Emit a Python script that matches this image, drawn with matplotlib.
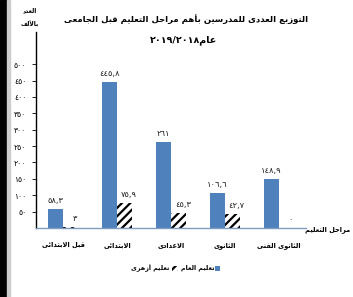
import unicodedata
import numpy as np
import matplotlib
matplotlib.use('Agg')
import matplotlib.pyplot as plt
from matplotlib.patches import Rectangle

# Data ===========================================
categories = ['قبل الابتدائى', 'الابتدائى', 'الاعدادى', 'الثانوى', 'الثانوى الفنى']
general    = [58.3, 445.8, 261, 106.6, 148.9]   # تعليم العام
azhar      = [3, 75.9, 45.3, 42.7, 0]           # تعليم أزهرى
yticks     = [50, 100, 150, 200, 250, 300, 350, 400, 450, 500]

title      = 'التوزيع العددى للمدرسين بأهم مراحل التعليم قبل الجامعى'
year_txt   = 'عام'
years      = '2019/2018'
ylab       = ['العدد', 'بالألف']
xlab       = 'مراحل التعليم'
leg_general = 'تعليم العام'
leg_azhar   = 'تعليم أزهرى'

# Arabic shaping (no reshaper lib available) =====
FORMS = {}
LIGS  = {}
for cp in range(0xFE70, 0xFEFD):
    d = unicodedata.decomposition(chr(cp)).split()
    if len(d) == 2 and d[0] in ('<isolated>', '<final>', '<initial>', '<medial>'):
        FORMS.setdefault(chr(int(d[1], 16)), {})[d[0][1:-1]] = chr(cp)
    elif len(d) == 3 and d[1] == '0644':
        LIGS[(chr(int(d[2], 16)), d[0][1:-1])] = chr(cp)


def joins_left(c):
    return c in FORMS and 'initial' in FORMS[c]


def ar(s):
    res, i, n = [], 0, len(s)
    while i < n:
        c = s[i]
        if c not in FORMS:
            res.append(c); i += 1; continue
        after = i > 0 and joins_left(s[i-1])
        if c == 'ل' and i + 1 < n and (s[i+1], 'isolated') in LIGS:
            res.append(LIGS[(s[i+1], 'final' if after else 'isolated')])
            i += 2; continue
        nxt    = s[i+1] if i + 1 < n else ''
        before = joins_left(c) and nxt in FORMS and 'final' in FORMS[nxt]
        form   = ('medial' if after and before else 'final' if after
                  else 'initial' if before else 'isolated')
        res.append(FORMS[c].get(form, c))
        i += 1
    return ''.join(reversed(res))


DIG = str.maketrans('0123456789.', '٠١٢٣٤٥٦٧٨٩,')


def num(v):
    return f'{v:g}'.translate(DIG)


plt.rcParams['font.family'] = ['DejaVu Sans']
plt.rcParams['hatch.linewidth'] = 1.6

W, H = 353, 297
fig = plt.figure(figsize=(W/100, H/100), dpi=100)
ax  = fig.add_axes([36/W, 69/H, 270/W, 196/H])

blue = '#4F81BD'
x    = np.arange(len(categories))
w    = 0.28
ax.bar(x - w/2, general, w, color=blue, linewidth=0)
ax.bar(x + w/2, azhar, w, facecolor='white', edgecolor='black',
       hatch='////', linewidth=0)

for xi, v in zip(x, general):
    ax.annotate(num(v), (xi - w/2, v), xytext=(0, 3), textcoords='offset points',
                ha='center', va='bottom', fontsize=6, color='#222222')
for xi, v in zip(x, azhar):
    ax.annotate(num(v), (xi + w/2, v), xytext=(3, 3), textcoords='offset points',
                ha='center', va='bottom', fontsize=6, color='#222222')

ax.set_xlim(-0.5, 4.5)
ax.set_ylim(0, 598)
ax.set_yticks(yticks)
ax.set_yticklabels([num(t) for t in yticks], fontsize=5.5)
ax.tick_params(axis='y', length=3, pad=4, width=0.6)
ax.set_xticks(x)
ax.set_xticklabels([ar(c) for c in categories], fontsize=4.8, fontweight='bold')
ax.tick_params(axis='x', length=0, pad=10)

for s in ['top', 'right']:
    ax.spines[s].set_visible(False)
ax.spines['left'].set_linewidth(1.0)
ax.spines['bottom'].set_color('#7F9CC0')
ax.spines['bottom'].set_linewidth(1.0)

# Titles & labels ==============================
fig.text(186/W, 1 - 19/H, ar(title), ha='center', va='center',
         fontsize=6.1, fontweight='bold')
fig.text(184/W, 1 - 40/H, years.translate(DIG) + ar(year_txt), ha='center',
         va='center', fontsize=6.8, fontweight='bold')
fig.text(30/W, 1 - 11/H, ar(ylab[0]), ha='center', va='center', fontsize=4.3,
         fontweight='bold')
fig.text(30/W, 1 - 24/H, ar(ylab[1]), ha='center', va='center', fontsize=4.3,
         fontweight='bold')
fig.text(305/W, 1 - 230/H, ar(xlab), ha='left', va='center', fontsize=4.8,
         fontweight='bold')

# Legend, right-to-left: text then swatch ======
ly = 1 - 268/H
renderer = fig.canvas.get_renderer()
fig.patches.append(Rectangle((215/W, ly - 2.5/H), 5/W, 5/H, transform=fig.transFigure,
                             facecolor=blue, linewidth=0))
t1 = fig.text(214/W, ly, ar(leg_general), ha='right', va='center', fontsize=4.6,
              fontweight='bold')
x1 = t1.get_window_extent(renderer).x0
fig.patches.append(Rectangle(((x1 - 9)/W, ly - 2.5/H), 6/W, 5/H, transform=fig.transFigure,
                             facecolor='white', edgecolor='black', hatch='////',
                             linewidth=0))
fig.text((x1 - 11)/W, ly, ar(leg_azhar), ha='right', va='center', fontsize=4.6,
         fontweight='bold')

# Left black border ============================
fig.patches.append(Rectangle((0, 0), 7/W, 1, transform=fig.transFigure,
                             color='black', zorder=5))
fig.patches.append(Rectangle((7/W, 0), 3/W, 1, transform=fig.transFigure,
                             color='#CCCCCC', zorder=5))

fig.savefig('out.png', dpi=100)
